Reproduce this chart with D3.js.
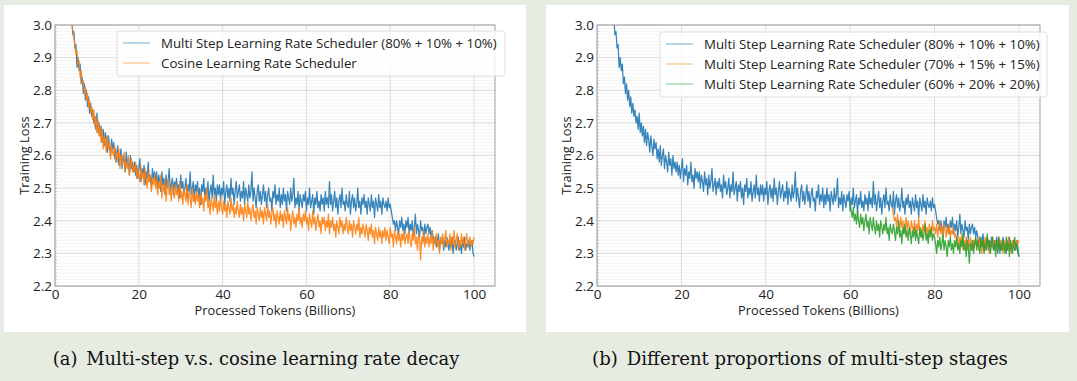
<!DOCTYPE html>
<html>
<head>
<meta charset="utf-8">
<script src="https://cdn.jsdelivr.net/npm/d3@7"></script>
<style>
  body { margin: 0; background: #e7ece2; }
  svg { display: block; }
  .tick text { font-family: 'Open Sans', 'DejaVu Sans', sans-serif; font-size: 13.5px; fill: #222; }
  .axis-label { font-family: 'Open Sans', 'DejaVu Sans', sans-serif; font-size: 12.8px; fill: #222; }
  .legend-text { font-family: 'Open Sans', 'DejaVu Sans', sans-serif; font-size: 13.3px; fill: #222; }
  .caption { font-family: 'DejaVu Serif', 'Liberation Serif', serif; font-size: 20px; fill: #111; }
</style>
</head>
<body>
<svg id="stage" width="1077" height="381"></svg>
<script>
'use strict';

// training loss sampled every 0.25B tokens
var tokenStep = 0.25;

var xTicks = [0, 20, 40, 60, 80, 100];
var yTicks = [2.2, 2.3, 2.4, 2.5, 2.6, 2.7, 2.8, 2.9, 3.0];

// multi step 80% + 10% + 10%, from 4B tokens
var multiStep80Start = 4;
var multiStep80 = [
    3.02, 2.97, 2.98, 2.93, 2.94, 2.87, 2.90, 2.86, 2.88, 2.82, 2.84, 2.79, 2.82, 2.77, 2.80, 2.75, 2.78, 2.73, 2.76, 2.72,
    2.74, 2.70, 2.72, 2.68, 2.73, 2.67, 2.70, 2.66, 2.69, 2.64, 2.68, 2.63, 2.67, 2.65, 2.61, 2.66, 2.63, 2.60, 2.65, 2.62,
    2.64, 2.59, 2.62, 2.58, 2.63, 2.57, 2.60, 2.62, 2.56, 2.60, 2.58, 2.55, 2.61, 2.57, 2.59, 2.54, 2.60, 2.56, 2.58, 2.55,
    2.58, 2.54, 2.57, 2.53, 2.56, 2.59, 2.52, 2.56, 2.54, 2.57, 2.51, 2.55, 2.53, 2.58, 2.52, 2.54, 2.50, 2.56, 2.53, 2.55,
    2.52, 2.55, 2.50, 2.54, 2.52, 2.49, 2.55, 2.51, 2.53, 2.48, 2.54, 2.50, 2.52, 2.56, 2.49, 2.51, 2.53, 2.48, 2.52, 2.50,
    2.53, 2.49, 2.51, 2.47, 2.54, 2.50, 2.52, 2.48, 2.50, 2.53, 2.47, 2.51, 2.49, 2.55, 2.48, 2.50, 2.52, 2.46, 2.51, 2.49,
    2.52, 2.47, 2.50, 2.45, 2.51, 2.49, 2.53, 2.47, 2.50, 2.48, 2.52, 2.46, 2.49, 2.51, 2.47, 2.54, 2.48, 2.50, 2.46, 2.51,
    2.48, 2.51, 2.46, 2.50, 2.48, 2.52, 2.45, 2.49, 2.51, 2.47, 2.50, 2.46, 2.53, 2.48, 2.50, 2.45, 2.49, 2.52, 2.47, 2.49,
    2.51, 2.46, 2.49, 2.47, 2.52, 2.45, 2.50, 2.48, 2.46, 2.51, 2.47, 2.49, 2.55, 2.46, 2.50, 2.47, 2.44, 2.49, 2.51, 2.46,
    2.49, 2.45, 2.48, 2.51, 2.46, 2.49, 2.44, 2.48, 2.50, 2.46, 2.47, 2.43, 2.49, 2.47, 2.51, 2.45, 2.48, 2.46, 2.50, 2.44,
    2.48, 2.45, 2.50, 2.46, 2.48, 2.43, 2.49, 2.47, 2.45, 2.50, 2.46, 2.48, 2.53, 2.44, 2.47, 2.45, 2.49, 2.43, 2.48, 2.46,
    2.44, 2.48, 2.46, 2.49, 2.43, 2.47, 2.45, 2.50, 2.44, 2.46, 2.48, 2.42, 2.47, 2.45, 2.49, 2.44, 2.46, 2.43, 2.48, 2.45,
    2.47, 2.43, 2.49, 2.45, 2.47, 2.44, 2.52, 2.45, 2.48, 2.43, 2.46, 2.49, 2.44, 2.47, 2.42, 2.46, 2.48, 2.44, 2.50, 2.45,
    2.46, 2.43, 2.48, 2.45, 2.44, 2.49, 2.42, 2.46, 2.48, 2.44, 2.47, 2.43, 2.45, 2.50, 2.44, 2.46, 2.42, 2.47, 2.45, 2.48,
    2.44, 2.46, 2.42, 2.47, 2.45, 2.43, 2.48, 2.44, 2.46, 2.41, 2.47, 2.45, 2.43, 2.48, 2.44, 2.46, 2.42, 2.47, 2.45, 2.44,
    2.46, 2.43, 2.47, 2.44, 2.45, 2.43, 2.41, 2.39, 2.40, 2.37, 2.40, 2.38, 2.36, 2.40, 2.38, 2.41, 2.37, 2.39, 2.36, 2.40,
    2.38, 2.41, 2.36, 2.39, 2.37, 2.40, 2.35, 2.38, 2.42, 2.36, 2.39, 2.37, 2.35, 2.40, 2.37, 2.38, 2.34, 2.39, 2.36, 2.38,
    2.39, 2.36, 2.38, 2.35, 2.37, 2.35, 2.33, 2.35, 2.32, 2.34, 2.36, 2.31, 2.34, 2.33, 2.35, 2.31, 2.34, 2.32, 2.35, 2.33,
    2.31, 2.34, 2.32, 2.35, 2.30, 2.33, 2.34, 2.31, 2.33, 2.35, 2.31, 2.33, 2.30, 2.34, 2.32, 2.35, 2.31, 2.33, 2.32, 2.34,
    2.31, 2.33, 2.34, 2.30, 2.29
];

// cosine schedule, from 4B tokens
var cosineStart = 4;
var cosine = [
    3.01, 2.98, 2.96, 2.94, 2.91, 2.92, 2.88, 2.89, 2.84, 2.86, 2.82, 2.83, 2.79, 2.81, 2.77, 2.79, 2.75, 2.77, 2.73, 2.75,
    2.71, 2.74, 2.69, 2.72, 2.67, 2.71, 2.66, 2.69, 2.64, 2.68, 2.62, 2.66, 2.64, 2.61, 2.66, 2.62, 2.64, 2.59, 2.63, 2.61,
    2.60, 2.63, 2.58, 2.61, 2.59, 2.62, 2.56, 2.60, 2.57, 2.59, 2.61, 2.55, 2.58, 2.56, 2.60, 2.54, 2.57, 2.59, 2.55, 2.57,
    2.55, 2.58, 2.53, 2.56, 2.54, 2.52, 2.57, 2.53, 2.55, 2.51, 2.56, 2.53, 2.50, 2.55, 2.52, 2.54, 2.49, 2.53, 2.51, 2.54,
    2.50, 2.53, 2.48, 2.52, 2.50, 2.54, 2.47, 2.51, 2.49, 2.52, 2.46, 2.50, 2.53, 2.48, 2.50, 2.46, 2.51, 2.49, 2.47, 2.51,
    2.48, 2.50, 2.46, 2.52, 2.47, 2.49, 2.45, 2.50, 2.48, 2.46, 2.51, 2.45, 2.49, 2.47, 2.44, 2.50, 2.46, 2.48, 2.45, 2.49,
    2.46, 2.48, 2.44, 2.49, 2.45, 2.47, 2.43, 2.48, 2.46, 2.50, 2.44, 2.46, 2.42, 2.47, 2.45, 2.43, 2.48, 2.44, 2.46, 2.42,
    2.46, 2.43, 2.47, 2.44, 2.42, 2.46, 2.43, 2.45, 2.41, 2.46, 2.44, 2.42, 2.47, 2.43, 2.45, 2.41, 2.44, 2.42, 2.46, 2.43,
    2.41, 2.45, 2.42, 2.44, 2.40, 2.45, 2.43, 2.41, 2.46, 2.42, 2.44, 2.40, 2.43, 2.45, 2.41, 2.43, 2.39, 2.44, 2.42, 2.40,
    2.44, 2.41, 2.43, 2.39, 2.44, 2.42, 2.40, 2.45, 2.41, 2.43, 2.39, 2.42, 2.44, 2.40, 2.42, 2.38, 2.43, 2.41, 2.39, 2.43,
    2.40, 2.42, 2.38, 2.43, 2.41, 2.39, 2.44, 2.40, 2.42, 2.37, 2.41, 2.43, 2.39, 2.41, 2.38, 2.42, 2.40, 2.44, 2.39, 2.41,
    2.38, 2.42, 2.40, 2.43, 2.39, 2.41, 2.37, 2.42, 2.40, 2.38, 2.43, 2.39, 2.41, 2.37, 2.40, 2.42, 2.38, 2.40, 2.36, 2.41,
    2.39, 2.41, 2.37, 2.40, 2.38, 2.42, 2.36, 2.40, 2.38, 2.41, 2.37, 2.39, 2.35, 2.40, 2.38, 2.36, 2.41, 2.38, 2.40, 2.36,
    2.39, 2.37, 2.41, 2.38, 2.36, 2.40, 2.37, 2.39, 2.35, 2.40, 2.38, 2.36, 2.39, 2.37, 2.41, 2.35, 2.38, 2.36, 2.39, 2.37,
    2.35, 2.39, 2.37, 2.34, 2.38, 2.36, 2.39, 2.35, 2.37, 2.33, 2.38, 2.36, 2.34, 2.38, 2.35, 2.37, 2.33, 2.37, 2.35, 2.38,
    2.34, 2.37, 2.35, 2.33, 2.38, 2.35, 2.36, 2.32, 2.37, 2.35, 2.33, 2.37, 2.34, 2.36, 2.32, 2.36, 2.34, 2.37, 2.33, 2.35,
    2.36, 2.33, 2.37, 2.34, 2.32, 2.36, 2.34, 2.38, 2.33, 2.35, 2.31, 2.36, 2.34, 2.28, 2.35, 2.33, 2.37, 2.32, 2.35, 2.33,
    2.36, 2.32, 2.35, 2.33, 2.37, 2.31, 2.35, 2.33, 2.36, 2.32, 2.34, 2.30, 2.35, 2.33, 2.36, 2.32, 2.34, 2.37, 2.32, 2.34,
    2.33, 2.36, 2.31, 2.35, 2.33, 2.37, 2.32, 2.34, 2.36, 2.31, 2.34, 2.32, 2.36, 2.33, 2.35, 2.31, 2.34, 2.36, 2.32, 2.34,
    2.35, 2.32, 2.34, 2.33, 2.35
];

// multi step 70% + 15% + 15%, branches off at 70B
var multiStep70Start = 70;
var multiStep70 = [
    2.44, 2.42, 2.40, 2.41, 2.38, 2.42, 2.39, 2.37, 2.41, 2.38, 2.40, 2.36, 2.39, 2.41, 2.37, 2.40, 2.38, 2.36, 2.40, 2.38,
    2.37, 2.40, 2.36, 2.39, 2.37, 2.41, 2.36, 2.38, 2.35, 2.39, 2.37, 2.40, 2.36, 2.38, 2.35, 2.39, 2.37, 2.36, 2.40, 2.37,
    2.38, 2.36, 2.39, 2.35, 2.38, 2.40, 2.36, 2.38, 2.35, 2.39, 2.37, 2.35, 2.38, 2.36, 2.39, 2.35, 2.37, 2.36, 2.38, 2.35,
    2.36, 2.34, 2.35, 2.32, 2.35, 2.33, 2.36, 2.31, 2.34, 2.33, 2.35, 2.31, 2.34, 2.32, 2.35, 2.33, 2.31, 2.34, 2.32, 2.35,
    2.32, 2.34, 2.31, 2.35, 2.33, 2.30, 2.34, 2.32, 2.35, 2.31, 2.33, 2.34, 2.30, 2.33, 2.32, 2.35, 2.31, 2.33, 2.34, 2.31,
    2.33, 2.35, 2.31, 2.34, 2.32, 2.30, 2.34, 2.32, 2.33, 2.31, 2.35, 2.32, 2.33, 2.30, 2.34, 2.32, 2.33, 2.31, 2.34, 2.33,
    2.34
];

// multi step 60% + 20% + 20%, branches off at 60B
var multiStep60Start = 60;
var multiStep60 = [
    2.46, 2.43, 2.41, 2.44, 2.40, 2.42, 2.39, 2.43, 2.40, 2.38, 2.42, 2.39, 2.41, 2.37, 2.40, 2.42, 2.38, 2.40, 2.36, 2.41,
    2.39, 2.37, 2.41, 2.38, 2.36, 2.40, 2.37, 2.39, 2.35, 2.40, 2.38, 2.36, 2.39, 2.37, 2.41, 2.36, 2.38, 2.34, 2.39, 2.37,
    2.36, 2.39, 2.37, 2.34, 2.38, 2.36, 2.40, 2.35, 2.37, 2.33, 2.38, 2.36, 2.39, 2.35, 2.37, 2.34, 2.38, 2.36, 2.33, 2.37,
    2.35, 2.38, 2.34, 2.37, 2.35, 2.33, 2.38, 2.35, 2.37, 2.34, 2.36, 2.39, 2.34, 2.36, 2.33, 2.37, 2.35, 2.38, 2.34, 2.36,
    2.35, 2.33, 2.30, 2.34, 2.32, 2.35, 2.31, 2.33, 2.36, 2.31, 2.34, 2.32, 2.29, 2.34, 2.32, 2.35, 2.31, 2.33, 2.30, 2.34,
    2.32, 2.35, 2.31, 2.33, 2.30, 2.34, 2.32, 2.36, 2.31, 2.33, 2.29, 2.34, 2.32, 2.27, 2.33, 2.31, 2.34, 2.30, 2.33, 2.35,
    2.31, 2.34, 2.32, 2.30, 2.35, 2.32, 2.34, 2.30, 2.33, 2.31, 2.36, 2.32, 2.34, 2.30, 2.33, 2.35, 2.31, 2.33, 2.29, 2.34,
    2.32, 2.35, 2.30, 2.33, 2.31, 2.34, 2.32, 2.30, 2.35, 2.31, 2.33, 2.29, 2.34, 2.32, 2.30, 2.33, 2.35, 2.31, 2.33, 2.32,
    2.29
];

var labels80 = 'Multi Step Learning Rate Scheduler (80% + 10% + 10%)';
var labels70 = 'Multi Step Learning Rate Scheduler (70% + 15% + 15%)';
var labels60 = 'Multi Step Learning Rate Scheduler (60% + 20% + 20%)';
var labelsCosine = 'Cosine Learning Rate Scheduler';

var captionA = '(a)\u2002Multi-step v.s. cosine learning rate decay';
var captionB = '(b)\u2002Different proportions of multi-step stages';

var blue = '#1f77b4', orange = '#ff7f0e', green = '#2ca02c';

var svg = d3.select('#stage');

function ToPoints(start, values) {
    return values.map(function(v, i) { return {'tokens': start + i*tokenStep, 'loss': v}; });
}

function DrawPanel(panel) {
    var g = svg.append('g');

    g.append('rect')
        .attr('x', panel.box[0]).attr('y', panel.box[1])
        .attr('width', panel.box[2]).attr('height', panel.box[3])
        .style('fill', '#fff');

    var x = d3.scaleLinear().domain([0, 105]).range([panel.left, panel.right]);
    var y = d3.scaleLinear().domain([2.2, 3.0]).range([panel.bottom, panel.top]);
    var minorY = d3.range(220, 301, 1).map(function(d) { return d/100; });

    // minor horizontal grid
    g.append('g').selectAll('line').data(minorY).enter()
        .append('line')
            .attr('x1', panel.left).attr('x2', panel.right)
            .attr('y1', function(d) { return y(d); }).attr('y2', function(d) { return y(d); })
            .style('stroke', '#eeeeee').style('stroke-width', 0.6);

    // major grid
    g.append('g').selectAll('line').data(yTicks).enter()
        .append('line')
            .attr('x1', panel.left).attr('x2', panel.right)
            .attr('y1', function(d) { return y(d); }).attr('y2', function(d) { return y(d); })
            .style('stroke', '#dcdcdc').style('stroke-width', 1);
    g.append('g').selectAll('line').data(xTicks).enter()
        .append('line')
            .attr('x1', function(d) { return x(d); }).attr('x2', function(d) { return x(d); })
            .attr('y1', panel.top).attr('y2', panel.bottom)
            .style('stroke', '#dcdcdc').style('stroke-width', 1);

    var line = d3.line()
        .x(function(d) { return x(d.tokens); })
        .y(function(d) { return y(d.loss); });

    var clipId = 'clip-' + panel.name;
    g.append('clipPath').attr('id', clipId)
        .append('rect')
            .attr('x', panel.left).attr('y', panel.top)
            .attr('width', panel.right - panel.left).attr('height', panel.bottom - panel.top);

    panel.series.forEach(function(s) {
        g.append('path')
            .datum(ToPoints(s.start, s.values))
            .attr('clip-path', 'url(#' + clipId + ')')
            .attr('d', line)
            .style('fill', 'none')
            .style('stroke', s.color)
            .style('stroke-width', 1.25)
            .style('stroke-linejoin', 'round')
            .style('opacity', 0.9);
    });

    // frame
    g.append('rect')
        .attr('x', panel.left).attr('y', panel.top)
        .attr('width', panel.right - panel.left).attr('height', panel.bottom - panel.top)
        .style('fill', 'none').style('stroke', '#a0a0a0').style('stroke-width', 1);

    // minor ticks on the left spine
    g.append('g').selectAll('line').data(minorY).enter()
        .append('line')
            .attr('x1', panel.left).attr('x2', panel.left + 2)
            .attr('y1', function(d) { return y(d); }).attr('y2', function(d) { return y(d); })
            .style('stroke', '#b0b0b0').style('stroke-width', 0.6);

    var yAxis = g.append('g')
        .attr('transform', 'translate(' + panel.left + ',0)')
        .call(d3.axisLeft(y).tickValues(yTicks).tickFormat(d3.format('.1f')).tickSize(0).tickPadding(3));
    yAxis.select('.domain').remove();

    var xAxis = g.append('g')
        .attr('transform', 'translate(0,' + panel.bottom + ')')
        .call(d3.axisBottom(x).tickValues(xTicks).tickSize(0).tickPadding(3));
    xAxis.select('.domain').remove();

    g.append('text')
        .classed('axis-label', true)
        .attr('x', (panel.left + panel.right) / 2)
        .attr('y', panel.bottom + 29)
        .attr('text-anchor', 'middle')
        .text('Processed Tokens (Billions)');

    g.append('text')
        .classed('axis-label', true)
        .attr('transform', 'translate(' + (panel.left - 26) + ',' + ((panel.top + panel.bottom) / 2) + ') rotate(-90)')
        .attr('text-anchor', 'middle')
        .text('Training Loss');

    // legend
    var lg = g.append('g');
    lg.append('rect')
        .attr('x', panel.legend[0]).attr('y', panel.legend[1])
        .attr('width', panel.legend[2]).attr('height', 5 + 20 * panel.series.length)
        .attr('rx', 3)
        .style('fill', 'rgba(255,255,255,0.8)').style('stroke', '#dedede');
    panel.series.forEach(function(s, i) {
        var ly = panel.legend[1] + 12 + i * 20;
        lg.append('line')
            .attr('x1', panel.legend[0] + 6).attr('x2', panel.legend[0] + 33)
            .attr('y1', ly).attr('y2', ly)
            .style('stroke', s.color).style('stroke-width', 1.5).style('opacity', 0.4);
        lg.append('text')
            .classed('legend-text', true)
            .attr('x', panel.legend[0] + 44)
            .attr('y', ly + 4.5)
            .text(s.label);
    });

    // caption, scaled to the width it has in the figure
    var cap = svg.append('text')
        .classed('caption', true)
        .attr('x', panel.captionX)
        .attr('y', 365)
        .attr('text-anchor', 'middle')
        .text(panel.caption);
    var measured = cap.node().getComputedTextLength();
    if (measured > 0) {
        cap.style('font-size', (20 * panel.captionWidth / measured) + 'px');
    }
}

DrawPanel({
    'name': 'a', 'box': [4, 5, 522, 327],
    'left': 55, 'right': 495, 'top': 25, 'bottom': 286,
    'legend': [117, 31, 388],
    'caption': captionA, 'captionX': 256, 'captionWidth': 407,
    'series': [
        {'start': multiStep80Start, 'values': multiStep80, 'color': blue, 'label': labels80},
        {'start': cosineStart, 'values': cosine, 'color': orange, 'label': labelsCosine}
    ]
});

DrawPanel({
    'name': 'b', 'box': [546, 5, 523, 327],
    'left': 597, 'right': 1040, 'top': 25, 'bottom': 286,
    'legend': [660, 32, 387],
    'caption': captionB, 'captionX': 800, 'captionWidth': 416,
    'series': [
        {'start': multiStep80Start, 'values': multiStep80, 'color': blue, 'label': labels80},
        {'start': multiStep70Start, 'values': multiStep70, 'color': orange, 'label': labels70},
        {'start': multiStep60Start, 'values': multiStep60, 'color': green, 'label': labels60}
    ]
});
</script>
</body>
</html>
